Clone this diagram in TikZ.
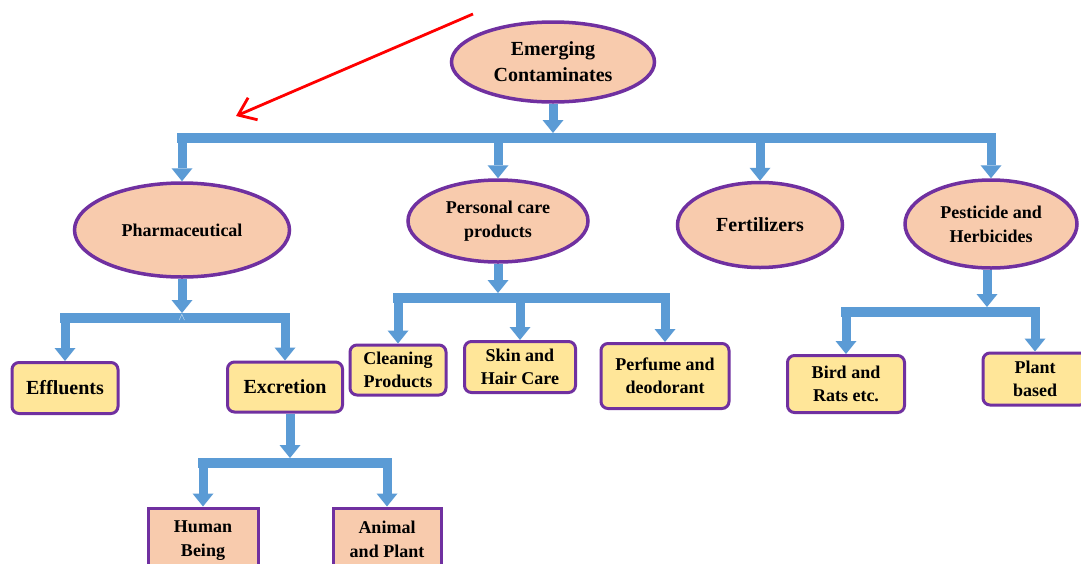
\documentclass[tikz,border=0pt]{standalone}
\usepackage{fontspec}
\setmainfont{Liberation Serif}
\usetikzlibrary{shapes.geometric,arrows.meta}
\definecolor{rim}{HTML}{7030A0}
\definecolor{peach}{HTML}{F8CBAD}
\definecolor{sand}{HTML}{FFE699}
\definecolor{pipe}{HTML}{5B9BD5}
\tikzset{
  blob/.style={ellipse,draw=rim,fill=peach,line width=3.5pt,inner sep=0pt,align=center,font=\bfseries\fontsize{18}{24}\selectfont},
  tag/.style={rectangle,rounded corners=7pt,draw=rim,fill=sand,line width=3pt,inner sep=0pt,align=center,font=\bfseries\fontsize{18}{23}\selectfont},
  leaf/.style={rectangle,draw=rim,fill=peach,line width=3pt,inner sep=0pt,align=center,font=\bfseries\fontsize{18}{24}\selectfont},
  big/.style={font=\bfseries\fontsize{20}{26}\selectfont},
  flow/.style={draw=pipe,line width=9pt,-{Triangle[length=13pt,width=21pt,line width=0pt]}},
  bar/.style={draw=pipe,line width=10pt,line cap=rect}
}
\begin{document}
\begin{tikzpicture}[x=1pt,y=-1pt]
\clip (0,0) rectangle (1081,563);
\fill[white] (0,0) rectangle (1081,563);
\node[blob,big,minimum width=203,minimum height=80] (top) at (553,62) {Emerging\\Contaminates};
\node[blob,minimum width=215,minimum height=94] (pharm) at (182,230) {Pharmaceutical};
\node[blob,minimum width=180,minimum height=82] (care) at (498,221) {Personal care\\products};
\node[blob,big,minimum width=165,minimum height=85] (fert) at (760,225) {Fertilizers};
\node[blob,minimum width=172,minimum height=88] (pest) at (991,224) {Pesticide and\\Herbicides};
\node[tag,big,minimum width=106,minimum height=51] (effl) at (65,388) {Effluents};
\node[tag,big,minimum width=115,minimum height=50] (excr) at (285,387) {Excretion};
\node[tag,minimum width=96,minimum height=50] (clean) at (398,370) {Cleaning\\Products};
\node[tag,minimum width=111,minimum height=51] (skin) at (520,367) {Skin and\\Hair Care};
\node[tag,minimum width=128,minimum height=65] (perf) at (665,376) {Perfume and\\deodorant};
\node[tag,minimum width=117,minimum height=57] (bird) at (846,384) {Bird and\\Rats etc.};
\node[tag,minimum width=104,minimum height=52] (plant) at (1035,379) {Plant\\based};
\node[leaf,minimum width=110,minimum height=66] (human) at (203,541) {Human\\Being};
\node[leaf,minimum width=108,minimum height=62] (animal) at (387,539) {Animal\\and Plant};
\coordinate (b0) at (553,138);
\coordinate (b1) at (182,318);
\coordinate (b2) at (290,463);
\coordinate (b3) at (498,298);
\coordinate (b4) at (987,312);
\draw[bar] (b0 -| pharm) -- (b0 -| pest);
\draw[bar] (b1 -| effl) -- (b1 -| excr);
\draw[bar] (b2 -| human) -- (b2 -| animal);
\draw[bar] (b3 -| clean) -- (b3 -| perf);
\draw[bar] (b4 -| bird) -- (b4 -| plant);
\draw[flow,shorten >=5pt] (top.south) -- (b0);
\draw[flow,shorten >=5pt] (pharm.south) -- (b1);
\draw[flow,shorten >=5pt] (excr.south -| b2) -- (b2);
\draw[flow,shorten >=5pt] (care.south) -- (b3);
\draw[flow,shorten >=5pt] (pest.south -| b4) -- (b4);
\foreach \k in {pharm,care,fert,pest} \draw[flow] (b0 -| \k) -- (\k.north);
\foreach \k in {effl,excr} \draw[flow] (b1 -| \k) -- (\k.north);
\foreach \k in {human,animal} \draw[flow] (b2 -| \k) -- (\k.north);
\foreach \k in {clean,skin,perf} \draw[flow] (b3 -| \k) -- (\k.north);
\foreach \k in {bird,plant} \draw[flow] (b4 -| \k) -- (\k.north);
\node[text=white,font=\fontsize{10}{10}\selectfont,inner sep=0pt] (caret) at (182,318) {$\wedge$};
\coordinate (pfrom) at (473,14);
\coordinate (pto) at (236,116);
\draw[red,line width=2.8pt,-{Straight Barb[length=16pt,width=24pt]}] (pfrom) -- (pto);
\end{tikzpicture}
\end{document}
